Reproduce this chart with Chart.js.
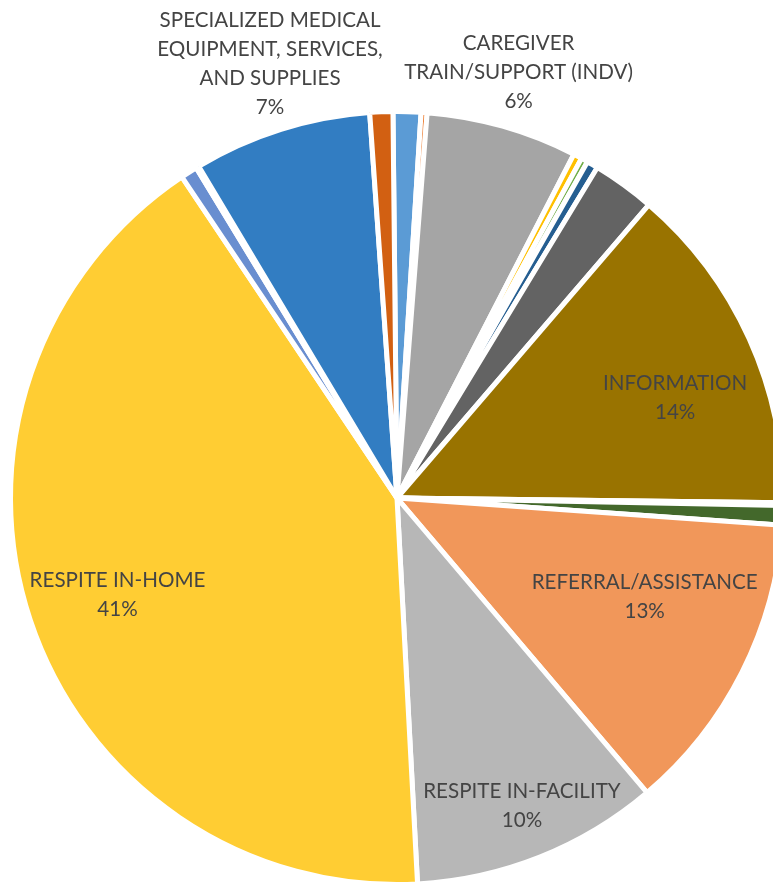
<!DOCTYPE html>
<html>
<head>
<meta charset="utf-8">
<script src="https://cdn.jsdelivr.net/npm/chart.js@4.4.1/dist/chart.umd.min.js"></script>
<style>
  html, body { margin: 0; padding: 0; background: #fff; }
  #wrap { width: 773px; height: 884px; overflow: hidden; position: relative; }
  canvas { display: block; }
</style>
</head>
<body>
<div id="wrap">
  <canvas id="pieChart" width="800" height="900"></canvas>
</div>
<script>
// services, in drawing order (clockwise from 12 o'clock)
const services = [
  "RESPITE OTHER",
  "ACCESS ASSISTANCE",
  "CAREGIVER TRAIN/SUPPORT (INDV)",
  "CAREGIVER TRAIN/SUPPORT (GROUP)",
  "COUNSELING",
  "CASE MANAGEMENT",
  "SUPPORT GROUPS",
  "INFORMATION",
  "LEGAL ASSISTANCE",
  "HOME MODIFICATION",
  "REFERRAL/ASSISTANCE",
  "RESPITE IN-FACILITY",
  "RESPITE IN-HOME",
  "TRANSPORTATION",
  "HOMEMAKER",
  "SPECIALIZED MEDICAL EQUIPMENT, SERVICES, AND SUPPLIES",
  "ASSISTIVE TECHNOLOGY"
];

// share of total (%), sums to 100
const shares = [1.16, 0.25, 6.32, 0.36, 0.28, 0.47, 2.62, 13.9, 0.12, 0.81, 12.68, 10.35, 41.45, 0.70, 0.12, 7.45, 0.96];

const sliceColors = [
  "#5B9BD5", "#ED7D31", "#A5A5A5", "#FFC000", "#70AD47", "#255E91",
  "#636363", "#997300", "#264478", "#43682B", "#F1975A", "#B7B7B7",
  "#FFCD33", "#698ED0", "#8CC168", "#327DC2", "#D26012"
];

// which slices get a label, and the text lines shown
const labelLines = {
  2: ["CAREGIVER", "TRAIN/SUPPORT (INDV)"],
  7: ["INFORMATION"],
  10: ["REFERRAL/ASSISTANCE"],
  11: ["RESPITE IN-FACILITY"],
  12: ["RESPITE IN-HOME"],
  15: ["SPECIALIZED MEDICAL", "EQUIPMENT, SERVICES,", "AND SUPPLIES"]
};

// label anchor: fraction of radius, angle tweak (deg) from slice middle
const labelSpot = {
  2: [1.145, 0.1],
  7: [0.765, 4.5],
  10: [0.69, -5.1],
  11: [0.86, -0.4],
  12: [0.765, -0.6],
  15: [1.17, 1.16]
};

const sliceLabels = {
  id: "sliceLabels",
  afterDatasetsDraw(chart) {
    const ctx = chart.ctx;
    const arcs = chart.getDatasetMeta(0).data;
    const vals = chart.data.datasets[0].data;
    const total = vals.reduce((a, b) => a + b, 0);
    ctx.save();
    ctx.font = "20.6px Lato";
    ctx.fillStyle = "#444444";
    ctx.textAlign = "center";
    ctx.textBaseline = "middle";
    const lh = 29;
    for (const key in labelLines) {
      const i = Number(key);
      const arc = arcs[i];
      const spot = labelSpot[i];
      const r = arc.outerRadius * spot[0];
      const a = (arc.startAngle + arc.endAngle) / 2 + spot[1] * Math.PI / 180;
      const cx = arc.x + Math.cos(a) * r;
      const cy = arc.y + Math.sin(a) * r;
      const lines = labelLines[i].concat([Math.round(vals[i] / total * 100) + "%"]);
      const top = cy - (lines.length - 1) * lh / 2;
      lines.forEach((t, k) => ctx.fillText(t, cx, top + k * lh));
    }
    ctx.restore();
  }
};

const config = {
  type: "pie",
  data: {
    labels: services,
    datasets: [{
      data: shares,
      backgroundColor: sliceColors,
      borderColor: "#ffffff",
      borderWidth: 5
    }]
  },
  options: {
    responsive: false,
    animation: false,
    rotation: -0.6,
    layout: { padding: { left: 8, top: 109, right: 14, bottom: 13 } },
    plugins: {
      legend: { display: false },
      tooltip: { enabled: false }
    }
  },
  plugins: [sliceLabels]
};

new Chart(document.getElementById("pieChart"), config);
</script>
</body>
</html>
